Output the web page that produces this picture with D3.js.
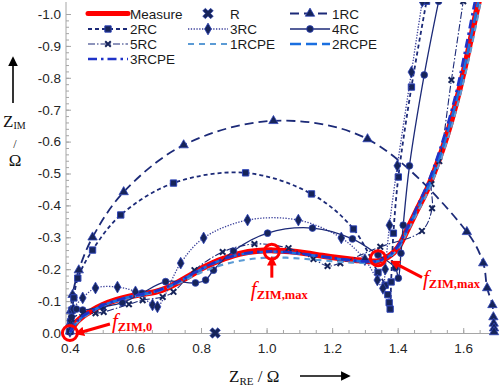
<!DOCTYPE html>
<html><head><meta charset="utf-8">
<script src="https://cdn.jsdelivr.net/npm/d3@7"></script>
<style>body{margin:0;background:#fff}svg{display:block;background:#fff}</style>
</head><body><svg id="c" width="500" height="387"></svg>
<script>
// ---------- data ----------
const xTickValues = [0.4, 0.6, 0.8, 1.0, 1.2, 1.4, 1.6];
const yTickValues = [0.0, -0.1, -0.2, -0.3, -0.4, -0.5, -0.6, -0.7, -0.8, -0.9, -1.0];

const measureX = [0.400,0.415,0.438,0.470,0.500,0.540,0.580,0.620,0.661,0.700,0.734,0.770,0.805,0.835,0.870,0.920,0.970,1.020,1.070,1.120,1.170,1.220,1.270,1.310,1.340,1.370,1.400,1.430,1.460,1.490,1.520,1.550,1.580,1.610,1.640,1.652];
const measureY = [0.000,-0.028,-0.051,-0.072,-0.088,-0.103,-0.114,-0.122,-0.129,-0.143,-0.161,-0.182,-0.204,-0.219,-0.233,-0.249,-0.257,-0.259,-0.256,-0.250,-0.242,-0.235,-0.229,-0.225,-0.225,-0.238,-0.266,-0.325,-0.388,-0.450,-0.528,-0.618,-0.728,-0.858,-1.005,-1.060];

const rX = [0.843];
const rY = [0.000];

const rc1X = [0.400,0.401,0.403,0.408,0.427,0.469,0.564,0.747,1.021,1.308,1.611,1.661,1.673,1.689,1.692,1.693,1.694,1.694];
const rc1Y = [-0.005,-0.030,-0.070,-0.120,-0.197,-0.300,-0.442,-0.589,-0.665,-0.608,-0.317,-0.219,-0.141,-0.088,-0.050,-0.030,-0.015,-0.003];

const rc2X = [0.400,0.402,0.406,0.412,0.424,0.469,0.555,0.716,0.936,1.137,1.265,1.340,1.362,1.370,1.374,1.377,1.380,1.387,1.402,1.442,1.488];
const rc2Y = [-0.005,-0.035,-0.072,-0.110,-0.172,-0.260,-0.370,-0.470,-0.502,-0.436,-0.326,-0.190,-0.150,-0.120,-0.095,-0.075,-0.160,-0.313,-0.489,-0.771,-1.040];

const rc3X = [0.400,0.402,0.410,0.439,0.478,0.545,0.600,0.652,0.667,0.738,0.808,0.942,1.097,1.228,1.300,1.338,1.355,1.362,1.375,1.399,1.442,1.475];
const rc3Y = [-0.005,-0.040,-0.075,-0.110,-0.141,-0.144,-0.129,-0.088,-0.082,-0.219,-0.298,-0.354,-0.354,-0.298,-0.230,-0.166,-0.140,-0.200,-0.338,-0.524,-0.818,-1.040];

const rc4X = [0.400,0.405,0.420,0.439,0.500,0.560,0.620,0.692,0.783,0.814,0.838,0.899,1.003,1.140,1.262,1.340,1.393,1.402,1.410,1.417,1.436,1.481,1.525];
const rc4Y = [-0.005,-0.050,-0.075,-0.072,-0.082,-0.095,-0.125,-0.161,-0.157,-0.166,-0.197,-0.257,-0.313,-0.329,-0.295,-0.245,-0.204,-0.172,-0.250,-0.338,-0.524,-0.809,-1.040];

const rc5X = [0.400,0.405,0.440,0.478,0.503,0.580,0.622,0.683,0.716,0.780,0.866,0.963,1.067,1.143,1.186,1.225,1.347,1.474,1.505,1.503,1.527,1.564,1.600];
const rc5Y = [-0.005,-0.045,-0.060,-0.062,-0.066,-0.090,-0.103,-0.113,-0.129,-0.197,-0.254,-0.279,-0.266,-0.232,-0.210,-0.219,-0.270,-0.320,-0.391,-0.467,-0.539,-0.793,-1.040];

const rcpe1X = [0.400,0.420,0.450,0.500,0.580,0.660,0.740,0.800,0.870,0.940,1.000,1.060,1.120,1.180,1.240,1.300,1.340,1.370,1.400,1.430,1.460,1.490,1.520,1.550,1.580,1.610,1.640,1.657];
const rcpe1Y = [0.000,-0.030,-0.055,-0.085,-0.110,-0.128,-0.160,-0.190,-0.215,-0.230,-0.236,-0.236,-0.232,-0.227,-0.222,-0.220,-0.223,-0.236,-0.262,-0.318,-0.378,-0.438,-0.512,-0.600,-0.705,-0.828,-0.970,-1.060];

const rcpe2X = [0.400,0.420,0.440,0.470,0.500,0.540,0.580,0.620,0.660,0.700,0.740,0.780,0.820,0.870,0.920,0.970,1.020,1.070,1.120,1.170,1.220,1.270,1.310,1.340,1.370,1.400,1.430,1.460,1.490,1.520,1.550,1.580,1.610,1.640,1.648];
const rcpe2Y = [-0.002,-0.032,-0.052,-0.070,-0.086,-0.101,-0.113,-0.121,-0.130,-0.145,-0.165,-0.188,-0.210,-0.232,-0.246,-0.253,-0.255,-0.252,-0.246,-0.239,-0.232,-0.226,-0.223,-0.225,-0.238,-0.268,-0.326,-0.390,-0.452,-0.530,-0.622,-0.732,-0.862,-1.010,-1.050];

const rcpe3X = [0.400,0.420,0.440,0.470,0.500,0.540,0.580,0.620,0.660,0.700,0.740,0.780,0.820,0.870,0.920,0.970,1.020,1.070,1.120,1.170,1.220,1.270,1.310,1.340,1.370,1.400,1.430,1.460,1.490,1.520,1.550,1.580,1.605,1.630,1.638];
const rcpe3Y = [-0.002,-0.034,-0.054,-0.071,-0.087,-0.102,-0.112,-0.122,-0.131,-0.146,-0.166,-0.189,-0.211,-0.233,-0.247,-0.254,-0.256,-0.253,-0.247,-0.240,-0.233,-0.227,-0.224,-0.226,-0.240,-0.272,-0.330,-0.398,-0.465,-0.548,-0.645,-0.760,-0.880,-1.010,-1.050];

const seriesNames = ["Measure","R","1RC","2RC","3RC","4RC","5RC","1RCPE","2RCPE","3RCPE"];
const seriesX = [measureX, rX, rc1X, rc2X, rc3X, rc4X, rc5X, rcpe1X, rcpe2X, rcpe3X];
const seriesY = [measureY, rY, rc1Y, rc2Y, rc3Y, rc4Y, rc5Y, rcpe1Y, rcpe2Y, rcpe3Y];

// annotation anchor points (data coords)
const annoX = [0.400, 1.016, 1.340];
const annoY = [0.000, -0.255, -0.234];
const annoSub = ["ZIM,0", "ZIM,max", "ZIM,max"];

// ---------- styles ----------
const NAVY = "#1c2a78", MFILL = "#16245a", MSTROKE = "#2e44b8", RED = "#ff0000";
const styles = {
  "Measure": {color: RED, width: 6, dash: null, marker: null},
  "R":       {color: NAVY, width: 0, dash: null, marker: "bowtie"},
  "1RC":     {color: NAVY, width: 1.8, dash: "9,5", marker: "triangle"},
  "2RC":     {color: NAVY, width: 1.8, dash: "4,3", marker: "square"},
  "3RC":     {color: "#3a3f9a", width: 1.3, dash: "1.3,1.5", marker: "diamond"},
  "4RC":     {color: NAVY, width: 1.3, dash: null, marker: "circle"},
  "5RC":     {color: NAVY, width: 1.1, dash: "7,2,1.5,2", marker: "x"},
  "1RCPE":   {color: "#5b9bd5", width: 2.2, dash: "6,5", marker: null},
  "2RCPE":   {color: "#1a6fe0", width: 2.6, dash: "11,5", marker: null},
  "3RCPE":   {color: "#1f33c8", width: 2.6, dash: "9,4,2.5,4", marker: null}
};

// ---------- scales ----------
const svg = d3.select("#c");
const x = d3.scaleLinear().domain([0.388, 1.70]).range([66, 496]);
const y = d3.scaleLinear().domain([0, -1.0]).range([333, 14]);

const defs = svg.append("defs");
defs.append("clipPath").attr("id","clip").append("rect")
  .attr("x", 60).attr("y", 2).attr("width", 440).attr("height", 338);
defs.append("clipPath").attr("id","clipL").append("rect")
  .attr("x", 66).attr("y", 2).attr("width", 434).attr("height", 333);
defs.append("marker").attr("id","ahRed").attr("viewBox","0 0 10 10").attr("refX",2).attr("refY",5)
  .attr("markerWidth",3.2).attr("markerHeight",3.2).attr("orient","auto")
  .append("path").attr("d","M0,0L10,5L0,10z").attr("fill",RED);
defs.append("marker").attr("id","ahBlk").attr("viewBox","0 0 10 10").attr("refX",2).attr("refY",5)
  .attr("markerWidth",6).attr("markerHeight",6).attr("orient","auto")
  .append("path").attr("d","M0,0L10,5L0,10z").attr("fill","#000");

// ---------- axes ----------
const axisColor = "#a6a6a6";
const fmt = d => (Math.abs(d) < 1e-9 ? 0 : d).toFixed(1);
const gx = svg.append("g").attr("transform","translate(0,333)");
gx.call(d3.axisBottom(x).tickValues(d3.range(0.4, 1.701, 0.05)).tickSize(-3).tickSizeOuter(0).tickFormat(""));
gx.call(g => g.selectAll(".tick line").attr("stroke", axisColor));
gx.select(".domain").attr("stroke", axisColor);
const gx2 = svg.append("g").attr("transform","translate(0,333)");
gx2.call(d3.axisBottom(x).tickValues(xTickValues).tickSize(-5).tickSizeOuter(0).tickPadding(10).tickFormat(fmt));
gx2.select(".domain").remove();
gx2.selectAll(".tick line").attr("stroke", axisColor);
gx2.selectAll("text").attr("font-family","'Liberation Sans',Arial,sans-serif").attr("font-size","13.5px").attr("fill","#262626");

const gy = svg.append("g").attr("transform","translate(66,0)");
gy.call(d3.axisLeft(y).tickValues(d3.range(0, 51).map(i => -i*0.02)).tickSize(-3).tickSizeOuter(0).tickFormat(""));
gy.selectAll(".tick line").attr("stroke", axisColor);
gy.select(".domain").attr("stroke", axisColor).attr("d","M0,333V2");
const gy2 = svg.append("g").attr("transform","translate(66,0)");
gy2.call(d3.axisLeft(y).tickValues(yTickValues).tickSize(-5).tickSizeOuter(0).tickPadding(5).tickFormat(fmt));
gy2.select(".domain").remove();
gy2.selectAll(".tick line").attr("stroke", axisColor);
gy2.selectAll("text").attr("font-family","'Liberation Sans',Arial,sans-serif").attr("font-size","13.5px").attr("fill","#262626");

// ---------- marker drawing ----------
function drawMarker(g, kind, px, py, scale) {
  const s = scale || 1;
  if (kind === "triangle") {
    g.append("path").attr("d", d3.symbol(d3.symbolTriangle, 38*s*s)()).attr("transform",`translate(${px},${py})`)
      .attr("fill", MFILL).attr("stroke", MSTROKE).attr("stroke-width", 0.8);
  } else if (kind === "square") {
    g.append("path").attr("d", d3.symbol(d3.symbolSquare, 40*s*s)()).attr("transform",`translate(${px},${py})`)
      .attr("fill", MFILL).attr("stroke", MSTROKE).attr("stroke-width", 1);
  } else if (kind === "diamond") {
    g.append("path").attr("d", d3.symbol(d3.symbolDiamond, 40*s*s)()).attr("transform",`translate(${px},${py})`)
      .attr("fill", MFILL).attr("stroke", MSTROKE).attr("stroke-width", 0.8);
  } else if (kind === "circle") {
    g.append("path").attr("d", d3.symbol(d3.symbolCircle, 36*s*s)()).attr("transform",`translate(${px},${py})`)
      .attr("fill", MFILL).attr("stroke", MSTROKE).attr("stroke-width", 0.8);
  } else if (kind === "x") {
    g.append("path").attr("d", d3.symbol(d3.symbolX, 22*s*s)()).attr("transform",`translate(${px},${py})`)
      .attr("fill","none").attr("stroke", MFILL).attr("stroke-width", 2);
  } else if (kind === "bowtie") {
    g.append("path").attr("d", d3.symbol(d3.symbolCross, 70*s*s)()).attr("transform",`translate(${px},${py}) rotate(45)`)
      .attr("fill", MFILL).attr("stroke", MSTROKE).attr("stroke-width", 0.6);
  }
}

// ---------- series ----------
const plot = svg.append("g");
const line = d3.line().x(d => x(d[0])).y(d => y(d[1])).curve(d3.curveCatmullRom.alpha(0.5));
seriesNames.forEach((name, i) => {
  const st = styles[name];
  const pts = seriesX[i].map((v, j) => [v, seriesY[i][j]]);
  const g = plot.append("g");
  if (st.width > 0 && pts.length > 1) {
    g.append("path").datum(pts).attr("d", line).attr("clip-path","url(#clipL)")
      .attr("fill","none").attr("stroke", st.color).attr("stroke-width", st.width)
      .attr("stroke-dasharray", st.dash).attr("stroke-linejoin","round")
      .attr("stroke-linecap", name === "Measure" ? "round" : "butt");
  }
  if (st.marker) {
    const mg = g.append("g").attr("clip-path","url(#clip)");
    pts.forEach(p => drawMarker(mg, st.marker, x(p[0]), y(p[1])));
  }
});

// ---------- legend ----------
const legend = svg.append("g");
const colX = [88, 188, 290];
const rowY = [13.5, 29, 44, 59];
seriesNames.forEach((name, i) => {
  const st = styles[name];
  const cx = colX[i % 3], cy = rowY[Math.floor(i / 3)];
  if (st.width > 0) {
    legend.append("line").attr("x1", cx).attr("x2", cx + 40).attr("y1", cy).attr("y2", cy)
      .attr("stroke", st.color).attr("stroke-width", name === "Measure" ? 5 : st.width)
      .attr("stroke-dasharray", st.dash).attr("stroke-linecap", name === "Measure" ? "round" : "butt");
  }
  if (st.marker) drawMarker(legend, st.marker, cx + 20, cy);
  legend.append("text").attr("x", cx + 42).attr("y", cy + 5)
    .attr("font-family","'Liberation Sans',Arial,sans-serif").attr("font-size","13.5px").attr("fill","#1a1a1a")
    .text(name);
});

// ---------- axis titles ----------
const serif = "'Liberation Serif','Times New Roman',serif";
svg.append("line").attr("x1",13).attr("y1",103).attr("x2",13).attr("y2",64)
  .attr("stroke","#000").attr("stroke-width",1.6).attr("marker-end","url(#ahBlk)");
const zim = svg.append("text").attr("x",3).attr("y",127).attr("font-family",serif).attr("font-size","17px").attr("fill","#111");
zim.append("tspan").text("Z");
zim.append("tspan").attr("font-size","10px").attr("dy",2).text("IM");
svg.append("text").attr("x",15).attr("y",148).attr("text-anchor","middle").attr("font-family",serif).attr("font-size","12px").attr("fill","#111").text("/");
svg.append("text").attr("x",15).attr("y",166).attr("text-anchor","middle").attr("font-family",serif).attr("font-size","17px").attr("fill","#111").text("Ω");

const zre = svg.append("text").attr("x",229).attr("y",382).attr("font-family",serif).attr("font-size","17px").attr("fill","#111");
zre.append("tspan").text("Z");
zre.append("tspan").attr("font-size","11px").attr("dy",3).text("RE");
zre.append("tspan").attr("dy",-3).text(" / Ω");
svg.append("line").attr("x1",300).attr("y1",376).attr("x2",343).attr("y2",376)
  .attr("stroke","#000").attr("stroke-width",1.6).attr("marker-end","url(#ahBlk)");

// ---------- annotations ----------
const ann = svg.append("g");
const arrowOffsets = [[[40,-9],[12,-1]], [[0,26],[0,12]], [[44,19],[19,6]]];
const textOffsets = [[42,-5], [-21,44], [45,27]];
annoX.forEach((v, i) => {
  const px = x(v), py = y(annoY[i]);
  ann.append("circle").attr("cx", px).attr("cy", py).attr("r", 7.5)
    .attr("fill","none").attr("stroke", RED).attr("stroke-width", 3);
  const a = arrowOffsets[i];
  ann.append("line").attr("x1", px + a[0][0]).attr("y1", py + a[0][1]).attr("x2", px + a[1][0]).attr("y2", py + a[1][1])
    .attr("stroke", RED).attr("stroke-width", 3).attr("marker-end","url(#ahRed)");
  const t = ann.append("text").attr("x", px + textOffsets[i][0]).attr("y", py + textOffsets[i][1])
    .attr("font-family", serif).attr("fill", RED);
  t.append("tspan").attr("font-style","italic").attr("font-size","21px").text("f");
  t.append("tspan").attr("font-weight","bold").attr("font-size","12.5px").attr("dy",3).text(annoSub[i]);
});
</script>
</body></html>
